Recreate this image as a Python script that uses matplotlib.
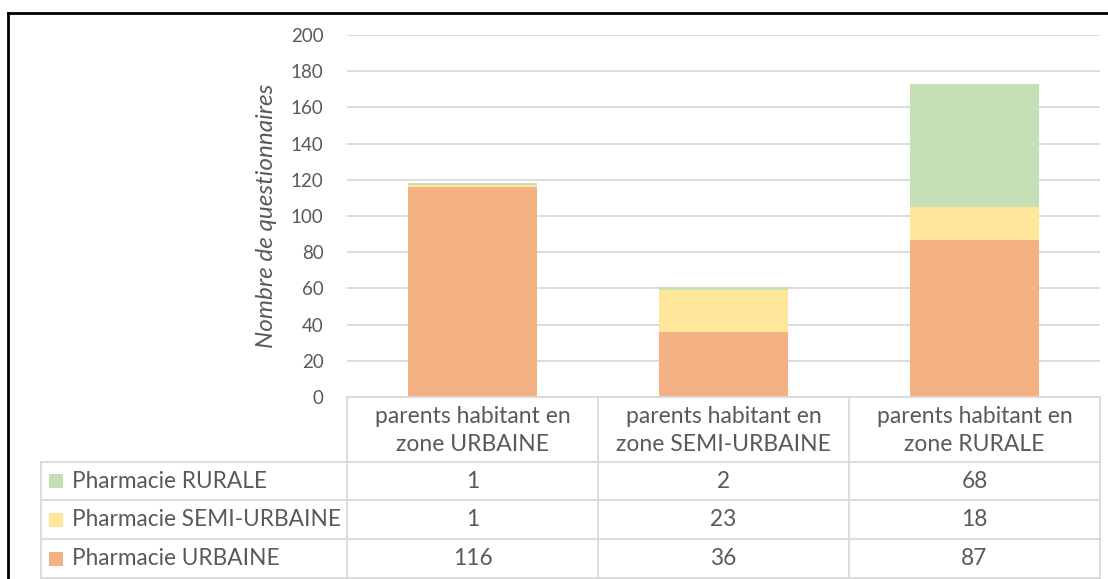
import matplotlib.pyplot as plt
from matplotlib.lines import Line2D
from matplotlib.patches import Rectangle
from matplotlib.transforms import blended_transform_factory

plt.rcParams['font.family'] = ['Lato', 'DejaVu Sans']

categories = ['parents habitant en\nzone URBAINE',
              'parents habitant en\nzone SEMI-URBAINE',
              'parents habitant en\nzone RURALE']
series = ['Pharmacie RURALE', 'Pharmacie SEMI-URBAINE', 'Pharmacie URBAINE']
rurale = [1, 2, 68]
semi = [1, 23, 18]
urbaine = [116, 36, 87]
colors = {'Pharmacie URBAINE': '#F4B183',
          'Pharmacie SEMI-URBAINE': '#FFE699',
          'Pharmacie RURALE': '#C5E0B4'}
yticks = [0, 20, 40, 60, 80, 100, 120, 140, 160, 180, 200]

W, H = 1108, 579
txt = '#595959'
grid = '#D9D9D9'

def fx(px):
    return px / W

def fy(py):
    return 1 - py / H

fig = plt.figure(figsize=(W / 100, H / 100), dpi=100)
ax = fig.add_axes([fx(347), fy(397), (1100 - 347) / W, (397 - 35) / H])

x = range(len(categories))
ax.bar(x, urbaine, width=0.51, color=colors['Pharmacie URBAINE'], zorder=3)
ax.bar(x, semi, width=0.51, bottom=urbaine, color=colors['Pharmacie SEMI-URBAINE'], zorder=3)
bottom2 = [a + b for a, b in zip(urbaine, semi)]
ax.bar(x, rurale, width=0.51, bottom=bottom2, color=colors['Pharmacie RURALE'], zorder=3)

ax.set_xlim(-0.5, len(categories) - 0.5)
ax.set_ylim(0, 200)
ax.set_yticks(yticks)
ax.set_xticks([])
ax.tick_params(axis='y', length=0, pad=17, labelsize=13.5, labelcolor=txt)
ax.grid(axis='y', color=grid, linewidth=1.3, zorder=0)
for s in ax.spines.values():
    s.set_visible(False)
ax.set_ylabel('Nombre de questionnaires', fontsize=17.5, style='italic', color=txt, labelpad=10)

# data table below the chart
bt = blended_transform_factory(ax.transData, fig.transFigure)
row_tops = [397, 462, 500, 539, 578]
lc = '#D9D9D9'
fig.add_artist(Line2D([fx(347), fx(1100)], [fy(397), fy(397)], color=lc, lw=1.3))
for py in row_tops[1:]:
    fig.add_artist(Line2D([fx(41), fx(1100)], [fy(py), fy(py)], color=lc, lw=1.3))
for i in range(len(categories) + 1):
    fig.add_artist(Line2D([i - 0.5, i - 0.5], [fy(397), fy(578)], color=lc, lw=1.3, transform=bt))
fig.add_artist(Line2D([fx(41), fx(41)], [fy(462), fy(578)], color=lc, lw=1.3))

for i, c in enumerate(categories):
    fig.text(i, fy((397 + 462) / 2 + 1), c, transform=bt, ha='center', va='center',
             fontsize=16.5, color=txt, linespacing=1.4)

table_rows = [('Pharmacie RURALE', rurale),
              ('Pharmacie SEMI-URBAINE', semi),
              ('Pharmacie URBAINE', urbaine)]
for r, (name, vals) in enumerate(table_rows):
    yc = (row_tops[r + 1] + row_tops[r + 2]) / 2
    fig.add_artist(Rectangle((fx(49), fy(yc + 7)), 14 / W, 14 / H,
                             transform=fig.transFigure, color=colors[name], lw=0))
    fig.text(fx(72), fy(yc), name, ha='left', va='center', fontsize=16.3, color=txt)
    for i, v in enumerate(vals):
        fig.text(i, fy(yc), str(v), transform=bt, ha='center', va='center',
                 fontsize=16.3, color=txt)

# outer frame (top and left edges visible)
fig.add_artist(Line2D([fx(8), 1], [fy(13), fy(13)], color='black', lw=2))
fig.add_artist(Line2D([fx(8), fx(8)], [fy(13), 0], color='black', lw=2))

fig.savefig('out.png', dpi=100)
